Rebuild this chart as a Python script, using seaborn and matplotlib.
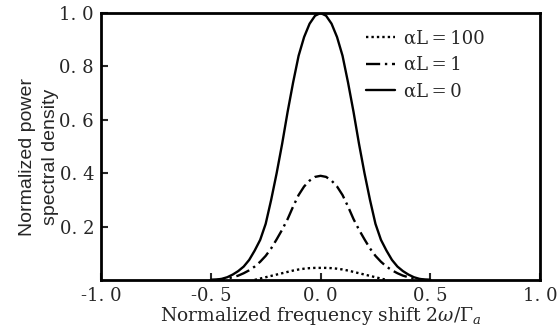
import numpy as np
import pandas as pd
import matplotlib
matplotlib.use("Agg")
import matplotlib.pyplot as plt
import seaborn as sns

# values (symmetric about 0)
half_shift = [0.0, 0.025, 0.05, 0.075, 0.1, 0.125, 0.15, 0.175, 0.2, 0.225, 0.25,
              0.275, 0.3, 0.325, 0.35, 0.375, 0.4, 0.425, 0.45, 0.475, 0.5]
half_al0 = [1.0, 0.99, 0.96, 0.91, 0.84, 0.74, 0.63, 0.51, 0.40, 0.30, 0.21,
            0.15, 0.11, 0.075, 0.05, 0.033, 0.02, 0.01, 0.004, 0.001, 0.0]
half_al1 = [0.39, 0.386, 0.372, 0.35, 0.318, 0.275, 0.228, 0.188, 0.152, 0.118, 0.09,
            0.068, 0.05, 0.036, 0.025, 0.016, 0.01, 0.005, 0.002, 0.0005, 0.0]
half_al100 = [0.045, 0.045, 0.044, 0.042, 0.039, 0.035, 0.03, 0.025, 0.02, 0.015, 0.01,
              0.005, 0.0, np.nan, np.nan, np.nan, np.nan, np.nan, np.nan, np.nan, np.nan]
series_labels = ["\u03b1L\u2009=\u2009100", "\u03b1L\u2009=\u20091", "\u03b1L\u2009=\u20090"]

xtick_vals = [-1.0, -0.5, 0.0, 0.5, 1.0]
xtick_labels = ["-1. 0", "-0. 5", "0. 0", "0. 5", "1. 0"]
ytick_vals = [0.2, 0.4, 0.6, 0.8, 1.0]
ytick_labels = ["0. 2", "0. 4", "0. 6", "0. 8", "1. 0"]


def mirror(vals):
    return vals[:0:-1] + vals


shift = [-v for v in half_shift[:0:-1]] + half_shift
df = pd.concat([
    pd.DataFrame({"x": shift, "y": mirror(half_al100), "case": series_labels[0]}),
    pd.DataFrame({"x": shift, "y": mirror(half_al1), "case": series_labels[1]}),
    pd.DataFrame({"x": shift, "y": mirror(half_al0), "case": series_labels[2]}),
]).dropna()

sns.set_style("ticks")
plt.rcParams["font.family"] = ["DejaVu Serif"]
plt.rcParams["mathtext.fontset"] = "dejavuserif"

fig = plt.figure(figsize=(5.58, 3.34), dpi=100)
ax = fig.add_axes([0.181, 0.162, 0.787, 0.799])

sns.lineplot(data=df, x="x", y="y", hue="case", style="case",
             palette=["black"] * 3,
             dashes={series_labels[0]: (1, 1.3),
                     series_labels[1]: (6, 2, 1, 2),
                     series_labels[2]: ""},
             hue_order=series_labels, style_order=series_labels,
             linewidth=1.7, ax=ax, sort=True)

ax.set_xlim(-1.0, 1.0)
ax.set_ylim(0, 1.0)
ax.set_xticks(xtick_vals)
ax.set_xticklabels(xtick_labels)
ax.set_yticks(ytick_vals)
ax.set_yticklabels(ytick_labels)
ax.tick_params(direction="in", length=5, width=1.5, labelsize=13, pad=5)
for s in ax.spines.values():
    s.set_linewidth(2.0)
    s.set_color("black")

ax.set_xlabel("Normalized frequency shift $2\\omega/\\Gamma_a$", fontsize=13.5, labelpad=0)
ax.set_ylabel("Normalized power\nspectral density", fontsize=14,
              family=["Liberation Sans", "DejaVu Sans"], linespacing=1.45)
ax.yaxis.set_label_coords(-0.095, 0.46)

leg = ax.legend(loc="upper right", frameon=False, fontsize=13, handlelength=1.6,
                handletextpad=0.5, labelspacing=0.48, bbox_to_anchor=(0.91, 1.0))

fig.savefig("out.png", dpi=100)
